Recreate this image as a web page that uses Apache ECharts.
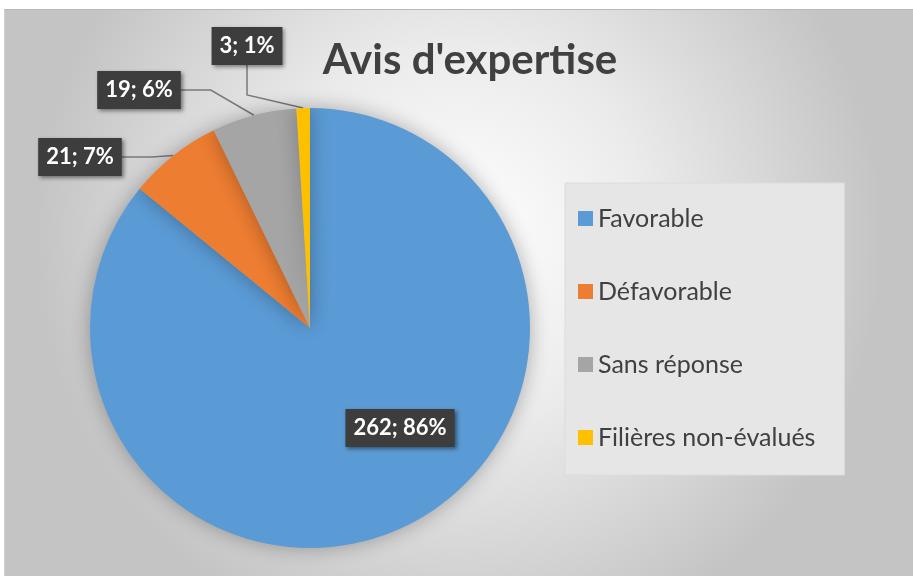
<!DOCTYPE html>
<html>
<head>
<meta charset="utf-8">
<script src="https://cdn.jsdelivr.net/npm/echarts@6/dist/echarts.min.js"></script>
<style>
  html, body { margin: 0; padding: 0; background: #fff; }
  #chart {
    position: absolute; left: 4px; top: 9px;
    width: 908px; height: 566px;
    border-top: 1px solid #b9b9b9; border-left: 1px solid #d0d0d0;
  }
</style>
</head>
<body>
<div id="chart"></div>
<script>
var categories = ['Favorable', 'Défavorable', 'Sans réponse', 'Filières non-évalués'];
var counts = [262, 21, 19, 3];
var percents = [86, 7, 6, 1];
var colors = ['#5B9BD5', '#ED7D31', '#A5A5A5', '#FFC000'];
// where each label box sits (centre, chart coords)
var labelPos = [[395, 418], [75, 147], [134, 80], [242, 36]];

var pieData = [];
for (var i = 0; i < categories.length; i++) {
    pieData.push({
        name: categories[i],
        value: counts[i],
        pct: percents[i],
        itemStyle: { color: colors[i] },
        label: { position: i === 0 ? 'inside' : 'outside' },
        labelLine: { show: i !== 0 }
    });
}

var option = {
    backgroundColor: {
        type: 'radial', x: 0.5, y: 0.4, r: 0.75,
        colorStops: [
            { offset: 0, color: '#ffffff' },
            { offset: 0.45, color: '#ebebeb' },
            { offset: 1, color: '#c4c4c4' }
        ]
    },
    title: {
        text: "Avis d'expertise",
        left: 460,
        top: 24,
        textAlign: 'center',
        textStyle: {
            fontFamily: 'Lato',
            fontWeight: 'bold',
            fontSize: 42,
            color: '#404040'
        }
    },
    legend: {
        orient: 'vertical',
        left: 560,
        top: 173,
        icon: 'rect',
        itemWidth: 15,
        itemHeight: 15,
        itemGap: 48,
        padding: [23, 29, 25, 13],
        backgroundColor: '#e6e6e6',
        borderColor: '#dcdcdc',
        borderWidth: 1,
        textStyle: {
            fontFamily: 'Lato',
            fontSize: 25,
            lineHeight: 25,
            color: '#404040'
        },
        data: categories
    },
    series: [
        {
            type: 'pie',
            center: [305, 318],
            radius: 220,
            startAngle: 90,
            clockwise: true,
            avoidLabelOverlap: false,
            itemStyle: {
                shadowBlur: 20,
                shadowColor: 'rgba(0,0,0,0.3)'
            },
            emphasis: { disabled: true },
            label: {
                formatter: function (p) { return p.value + '; ' + p.data.pct + '%'; },
                fontFamily: 'Lato',
                fontWeight: 'bold',
                fontSize: 22,
                color: '#ffffff',
                backgroundColor: '#3d3d3d',
                padding: [8, 8, 8, 8],
                shadowBlur: 4,
                shadowOffsetX: 2,
                shadowOffsetY: 2,
                shadowColor: 'rgba(0,0,0,0.45)'
            },
            labelLine: {
                lineStyle: { color: '#7a7a7a', width: 1.5 }
            },
            labelLayout: function (params) {
                var p = labelPos[params.dataIndex];
                return { x: p[0], y: p[1], align: 'center', verticalAlign: 'middle' };
            },
            data: pieData
        }
    ]
};

var myChart = echarts.init(document.getElementById('chart'));
myChart.setOption(option);
</script>
</body>
</html>
